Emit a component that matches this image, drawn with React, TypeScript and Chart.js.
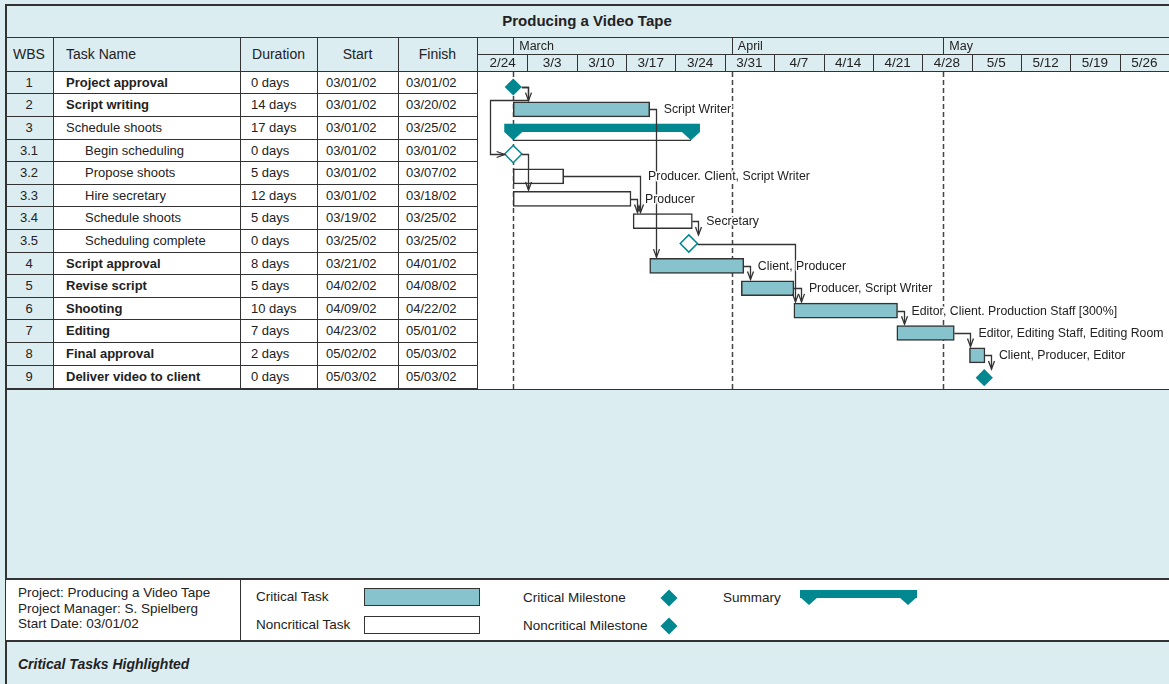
import React, { useEffect, useRef } from 'react';
import { Chart, registerables } from 'chart.js';

Chart.register(...registerables);

const BG = '#dcedf2';
const LINE = '#333333';
const TEAL = '#00878f';
const CRIT_FILL = '#86c3cc';
const TEXT = '#222222';
const FONT = '"Liberation Sans", Arial, Helvetica, sans-serif';

// ---------- data ----------
const wbs = ['1', '2', '3', '3.1', '3.2', '3.3', '3.4', '3.5', '4', '5', '6', '7', '8', '9'];
const taskNames = [
  'Project approval', 'Script writing', 'Schedule shoots', 'Begin scheduling', 'Propose shoots',
  'Hire secretary', 'Schedule shoots', 'Scheduling complete', 'Script approval', 'Revise script',
  'Shooting', 'Editing', 'Final approval', 'Deliver video to client',
];
const durations = ['0 days', '14 days', '17 days', '0 days', '5 days', '12 days', '5 days', '0 days', '8 days', '5 days', '10 days', '7 days', '2 days', '0 days'];
const startDates = ['03/01/02', '03/01/02', '03/01/02', '03/01/02', '03/01/02', '03/01/02', '03/19/02', '03/25/02', '03/21/02', '04/02/02', '04/09/02', '04/23/02', '05/02/02', '05/03/02'];
const finishDates = ['03/01/02', '03/20/02', '03/25/02', '03/01/02', '03/07/02', '03/18/02', '03/25/02', '03/25/02', '04/01/02', '04/08/02', '04/22/02', '05/01/02', '05/03/02', '05/03/02'];
const taskKinds = ['milestone', 'task', 'summary', 'milestone', 'task', 'task', 'task', 'milestone', 'task', 'task', 'task', 'task', 'task', 'milestone'];
const critical = [true, true, false, false, false, false, false, false, true, true, true, true, true, true];
// bar extents as drawn, in days after 03/01/02
const barStart = [0, 0, 0, 0, 0, 0, 17.0, 24.9, 19.35, 32.35, 39.8, 54.4, 64.7, 66.8];
const barEnd = [0, 19.35, 25.2, 0, 7.15, 16.7, 25.4, 24.9, 32.7, 39.8, 54.5, 62.55, 66.9, 66.8];
const resources = [
  '', 'Script Writer', '', '', 'Producer. Client, Script Writer', 'Producer', 'Secretary', '',
  'Client, Producer', 'Producer, Script Writer', 'Editor, Client. Production Staff [300%]',
  'Editor, Editing Staff, Editing Room', 'Client, Producer, Editor', '',
];
const links: [number, number][] = [
  [0, 1], [0, 3], [3, 5], [1, 8], [5, 6], [4, 6], [6, 7], [7, 10], [8, 9], [9, 10], [10, 11], [11, 12], [12, 13],
];
const weekLabels = ['2/24', '3/3', '3/10', '3/17', '3/24', '3/31', '4/7', '4/14', '4/21', '4/28', '5/5', '5/12', '5/19', '5/26'];
const weekStarts = [-5, 2, 9, 16, 23, 30, 37, 44, 51, 58, 65, 72, 79, 86];
const monthLabels = ['March', 'April', 'May'];
const monthStarts = [0, 31, 61];
const timelineStart = -5;
const timelineEnd = 93;

// ---------- layout constants ----------
const ROW_TOP = 71.7;
const ROW_H = 22.6;
const BAR_H = 17.5;
const MS_R = 8.6;
const HEADER_H = 34;

const criticalBars = taskKinds.map((k, i) => (k === 'task' && critical[i] ? { x: [barStart[i], barEnd[i]], y: i } : null)).filter(Boolean);
const normalBars = taskKinds.map((k, i) => (k === 'task' && !critical[i] ? { x: [barStart[i], barEnd[i]], y: i } : null)).filter(Boolean);
const critMs = taskKinds.map((k, i) => (k === 'milestone' && critical[i] ? { x: barStart[i], y: i } : null)).filter(Boolean);
const normMs = taskKinds.map((k, i) => (k === 'milestone' && !critical[i] ? { x: barStart[i], y: i } : null)).filter(Boolean);

function geom(chart: any) {
  const { x, y } = chart.scales;
  const isMs = (i: number) => taskKinds[i] === 'milestone';
  const sPx = (i: number) => x.getPixelForValue(barStart[i]) - (isMs(i) ? MS_R : 0);
  const ePx = (i: number) => x.getPixelForValue(barEnd[i]) + (isMs(i) ? MS_R : 0);
  const cy = (i: number) => y.getPixelForValue(i);
  const topPx = (i: number) => cy(i) - (isMs(i) ? MS_R : BAR_H / 2);
  const pitch = y.getPixelForValue(1) - y.getPixelForValue(0);
  const count: Record<number, number> = {};
  const turns = links.map(([a, b]) => {
    const k = count[b] || 0;
    count[b] = k + 1;
    return Math.max(ePx(a) + 6, sPx(b) + 1 + 6 * k);
  });
  return { x, y, isMs, sPx, ePx, cy, topPx, pitch, turns };
}

const snap = (v: number) => Math.round(v) + 0.5;

const ganttPlugin = {
  id: 'ganttDecor',
  beforeDraw(chart: any) {
    const { ctx, chartArea: ca } = chart;
    ctx.save();
    ctx.fillStyle = BG;
    ctx.fillRect(0, 0, chart.width, ca.top);
    ctx.fillStyle = '#ffffff';
    ctx.fillRect(0, ca.top, chart.width, chart.height - ca.top);
    ctx.restore();
  },
  beforeDatasetsDraw(chart: any) {
    const { ctx, chartArea: ca } = chart;
    const g = geom(chart);
    ctx.save();
    // month dashed lines
    ctx.strokeStyle = '#444444';
    ctx.lineWidth = 1.5;
    ctx.setLineDash([5, 3]);
    ctx.beginPath();
    monthStarts.forEach((d) => {
      const px = snap(g.x.getPixelForValue(d));
      ctx.moveTo(px, ca.top);
      ctx.lineTo(px, ca.bottom);
    });
    ctx.stroke();
    ctx.setLineDash([]);
    // summary bars
    taskKinds.forEach((k, i) => {
      if (k !== 'summary') return;
      const c = g.cy(i);
      const xs = g.x.getPixelForValue(barStart[i]);
      const xe = g.x.getPixelForValue(barEnd[i]);
      const tri = 9;
      ctx.fillStyle = TEAL;
      ctx.fillRect(xs - tri, c - 8, xe - xs + 2 * tri, 8.3);
      [xs, xe].forEach((cx) => {
        ctx.beginPath();
        ctx.moveTo(cx - tri, c + 0.2);
        ctx.lineTo(cx + tri, c + 0.2);
        ctx.lineTo(cx, c + 8.6);
        ctx.closePath();
        ctx.fill();
      });
      ctx.strokeStyle = LINE;
      ctx.lineWidth = 1.2;
      ctx.beginPath();
      ctx.moveTo(xs, c + 8.6);
      ctx.lineTo(xe, c + 8.6);
      ctx.stroke();
    });
    ctx.restore();
  },
  afterDatasetsDraw(chart: any) {
    const { ctx } = chart;
    const g = geom(chart);
    ctx.save();
    ctx.strokeStyle = LINE;
    ctx.lineWidth = 1.3;
    links.forEach(([a, b], li) => {
      const tx = snap(g.turns[li]);
      const ay = snap(g.cy(a));
      ctx.beginPath();
      ctx.moveTo(g.ePx(a), ay);
      ctx.lineTo(tx, ay);
      if (g.turns[li] > g.ePx(b) + 4) {
        const my = snap(g.cy(a) + 0.6 * g.pitch);
        const lx = snap(g.sPx(b) - 15);
        const by = snap(g.cy(b));
        const ex = g.sPx(b);
        ctx.lineTo(tx, my);
        ctx.lineTo(lx, my);
        ctx.lineTo(lx, by);
        ctx.lineTo(ex, by);
        ctx.stroke();
        ctx.beginPath();
        ctx.moveTo(ex - 8, by - 3);
        ctx.lineTo(ex, by);
        ctx.lineTo(ex - 8, by + 3);
        ctx.stroke();
      } else {
        const ty = g.topPx(b);
        ctx.lineTo(tx, ty);
        ctx.stroke();
        ctx.beginPath();
        ctx.moveTo(tx - 3, ty - 8);
        ctx.lineTo(tx, ty);
        ctx.lineTo(tx + 3, ty - 8);
        ctx.stroke();
      }
    });
    // resource labels
    ctx.font = `12.3px ${FONT}`;
    ctx.textBaseline = 'middle';
    ctx.textAlign = 'left';
    ctx.lineJoin = 'round';
    resources.forEach((txt, i) => {
      if (!txt) return;
      let lx = g.ePx(i);
      links.forEach(([a], li) => {
        if (a === i) lx = Math.max(lx, g.turns[li]);
      });
      lx += 8;
      const ly = g.cy(i) + 0.5;
      ctx.strokeStyle = '#ffffff';
      ctx.lineWidth = 3;
      ctx.strokeText(txt, lx, ly);
      ctx.fillStyle = TEXT;
      ctx.fillText(txt, lx, ly);
    });
    ctx.restore();
  },
  afterDraw(chart: any) {
    const { ctx, chartArea: ca } = chart;
    const { x } = chart.scales;
    const mid = 16;
    ctx.save();
    ctx.strokeStyle = LINE;
    ctx.lineWidth = 1;
    ctx.beginPath();
    ctx.moveTo(0, mid + 0.5);
    ctx.lineTo(chart.width, mid + 0.5);
    ctx.moveTo(0, ca.top - 0.5);
    ctx.lineTo(chart.width, ca.top - 0.5);
    weekStarts.forEach((d) => {
      const px = x.getPixelForValue(d);
      if (px < 1) return;
      ctx.moveTo(snap(px), mid);
      ctx.lineTo(snap(px), ca.top);
    });
    monthStarts.forEach((d) => {
      const px = snap(x.getPixelForValue(d));
      ctx.moveTo(px, 0);
      ctx.lineTo(px, mid);
    });
    ctx.stroke();
    ctx.fillStyle = TEXT;
    ctx.textBaseline = 'middle';
    ctx.font = `13.5px ${FONT}`;
    ctx.textAlign = 'center';
    weekStarts.forEach((d, i) => {
      const x0 = x.getPixelForValue(d);
      const x1 = x.getPixelForValue(i + 1 < weekStarts.length ? weekStarts[i + 1] : timelineEnd);
      ctx.fillText(weekLabels[i], (x0 + x1) / 2, 25);
    });
    ctx.font = `12.5px ${FONT}`;
    ctx.textAlign = 'left';
    monthStarts.forEach((d, i) => {
      ctx.fillText(monthLabels[i], x.getPixelForValue(d) + 6, 8.5);
    });
    ctx.restore();
  },
};

const abs = (s: React.CSSProperties): React.CSSProperties => ({ position: 'absolute', ...s });
const HL = (top: number, left: number, width: number, h = 1, key?: string) => (
  <div key={key} style={abs({ top, left, width, height: h, background: LINE })} />
);
const VL = (left: number, top: number, height: number, w = 1, key?: string) => (
  <div key={key} style={abs({ top, left, width: w, height, background: LINE })} />
);

export default function App() {
  const ref = useRef<HTMLCanvasElement>(null);

  useEffect(() => {
    const chart = new Chart(ref.current as HTMLCanvasElement, {
      type: 'bar',
      data: {
        datasets: [
          {
            type: 'bar', label: 'Critical Task', data: criticalBars as any, indexAxis: 'y',
            backgroundColor: CRIT_FILL, borderColor: LINE, borderWidth: 1.5, borderSkipped: false,
            grouped: false, barPercentage: 1, categoryPercentage: 1, maxBarThickness: BAR_H,
          } as any,
          {
            type: 'bar', label: 'Noncritical Task', data: normalBars as any, indexAxis: 'y',
            backgroundColor: '#ffffff', borderColor: LINE, borderWidth: 1.5, borderSkipped: false,
            grouped: false, barPercentage: 1, categoryPercentage: 1, maxBarThickness: BAR_H,
          } as any,
          {
            type: 'scatter', label: 'Critical Milestone', data: critMs as any,
            pointStyle: 'rectRot', pointRadius: MS_R, pointHoverRadius: MS_R,
            pointBackgroundColor: TEAL, pointBorderColor: TEAL, pointBorderWidth: 0,
          } as any,
          {
            type: 'scatter', label: 'Noncritical Milestone', data: normMs as any,
            pointStyle: 'rectRot', pointRadius: MS_R, pointHoverRadius: MS_R,
            pointBackgroundColor: '#ffffff', pointBorderColor: TEAL, pointBorderWidth: 1.5,
          } as any,
        ],
      },
      options: {
        responsive: false,
        animation: false,
        events: [],
        layout: { autoPadding: false, padding: { top: HEADER_H, left: 0, right: 0, bottom: 0 } },
        scales: {
          x: { type: 'linear', min: timelineStart, max: timelineEnd, display: false, offset: false, grid: { offset: false } },
          y: { type: 'linear', min: -0.671, max: 13.506, reverse: true, display: false, offset: false, grid: { offset: false } },
        },
        plugins: { legend: { display: false }, tooltip: { enabled: false } },
      },
      plugins: [ganttPlugin as any],
    });
    return () => chart.destroy();
  }, []);

  const cell: React.CSSProperties = {
    position: 'absolute', height: ROW_H, lineHeight: `${ROW_H}px`, fontSize: 13, whiteSpace: 'nowrap',
  };
  const head: React.CSSProperties = {
    position: 'absolute', top: 37, height: 35, lineHeight: '35px', fontSize: 14, whiteSpace: 'nowrap',
  };
  const rowsBottom = ROW_TOP + ROW_H * wbs.length;

  return (
    <div style={{ position: 'fixed', left: 0, top: 0, width: 1169, height: 684, background: BG, overflow: 'hidden', fontFamily: FONT, color: TEXT }}>
      {/* white table body */}
      <div style={abs({ left: 53, top: ROW_TOP, width: 424, height: rowsBottom - ROW_TOP, background: '#ffffff' })} />
      {/* outer frame */}
      {HL(4, 5, 1164, 2)}
      {VL(5, 4, 680, 2)}
      {HL(37, 5, 1164, 1)}
      {/* title */}
      <div style={abs({ left: 5, width: 1164, top: 5, height: 32, lineHeight: '32px', textAlign: 'center', fontWeight: 700, fontSize: 15 })}>
        Producing a Video Tape
      </div>
      {/* header */}
      <div style={{ ...head, left: 5, width: 48, textAlign: 'center' }}>WBS</div>
      <div style={{ ...head, left: 66 }}>Task Name</div>
      <div style={{ ...head, left: 240, width: 77, textAlign: 'center' }}>Duration</div>
      <div style={{ ...head, left: 317, width: 81, textAlign: 'center' }}>Start</div>
      <div style={{ ...head, left: 398, width: 79, textAlign: 'center' }}>Finish</div>
      {HL(71, 5, 473, 1)}
      {/* rows */}
      {wbs.map((w, i) => {
        const top = ROW_TOP + i * ROW_H;
        const sub = w.includes('.');
        return (
          <React.Fragment key={i}>
            <div style={{ ...cell, left: 5, width: 48, top, textAlign: 'center' }}>{w}</div>
            <div style={{ ...cell, left: sub ? 85 : 66, top, fontWeight: critical[i] ? 700 : 400 }}>{taskNames[i]}</div>
            <div style={{ ...cell, left: 251, top }}>{durations[i]}</div>
            <div style={{ ...cell, left: 326, top }}>{startDates[i]}</div>
            <div style={{ ...cell, left: 406, top }}>{finishDates[i]}</div>
            {i > 0 ? HL(Math.round(top) - 1, 5, 473, 1) : null}
          </React.Fragment>
        );
      })}
      {[53, 240, 317, 398].map((x) => VL(x, 37, Math.round(rowsBottom) - 37, 1, `c${x}`))}
      {VL(477, 37, Math.round(rowsBottom) - 37, 1)}
      {HL(Math.round(rowsBottom), 5, 1164, 2)}
      <canvas ref={ref} width={691} height={351} style={{ position: 'absolute', left: 478, top: 38, width: 691, height: 351 }} />

      {/* legend box */}
      <div style={abs({ left: 6, top: 578, width: 1163, height: 63, background: '#ffffff' })} />
      {HL(578, 5, 1164, 2)}
      {HL(640, 5, 1164, 2)}
      {VL(240, 578, 63, 1)}
      <div style={abs({ left: 18, top: 585, fontSize: 13.5, lineHeight: '15.5px', whiteSpace: 'nowrap' })}>
        <div>Project: Producing a Video Tape</div>
        <div>Project Manager: S. Spielberg</div>
        <div>Start Date: 03/01/02</div>
      </div>
      <div style={abs({ left: 256, top: 588, height: 18, lineHeight: '18px', fontSize: 13.5 })}>Critical Task</div>
      <div style={abs({ left: 364, top: 588, width: 114, height: 16, border: `1px solid ${LINE}`, background: CRIT_FILL })} />
      <div style={abs({ left: 256, top: 616, height: 18, lineHeight: '18px', fontSize: 13.5 })}>Noncritical Task</div>
      <div style={abs({ left: 364, top: 616, width: 114, height: 16, border: `1px solid ${LINE}`, background: '#ffffff' })} />
      <div style={abs({ left: 523, top: 589, height: 18, lineHeight: '18px', fontSize: 13.5 })}>Critical Milestone</div>
      <div style={abs({ left: 663, top: 592, width: 12, height: 12, background: TEAL, transform: 'rotate(45deg)' })} />
      <div style={abs({ left: 523, top: 617, height: 18, lineHeight: '18px', fontSize: 13.5 })}>Noncritical Milestone</div>
      <div style={abs({ left: 663, top: 620, width: 12, height: 12, background: TEAL, transform: 'rotate(45deg)' })} />
      <div style={abs({ left: 723, top: 589, height: 18, lineHeight: '18px', fontSize: 13.5 })}>Summary</div>
      <div style={abs({ left: 800, top: 590, width: 117, height: 7.5, background: TEAL })} />
      <div style={abs({ left: 800, top: 597, width: 0, height: 0, borderLeft: '9px solid transparent', borderRight: '9px solid transparent', borderTop: `8px solid ${TEAL}` })} />
      <div style={abs({ left: 899, top: 597, width: 0, height: 0, borderLeft: '9px solid transparent', borderRight: '9px solid transparent', borderTop: `8px solid ${TEAL}` })} />

      <div style={abs({ left: 18, top: 655, height: 18, lineHeight: '18px', fontSize: 14, fontWeight: 700, fontStyle: 'italic' })}>
        Critical Tasks Highlighted
      </div>
    </div>
  );
}
